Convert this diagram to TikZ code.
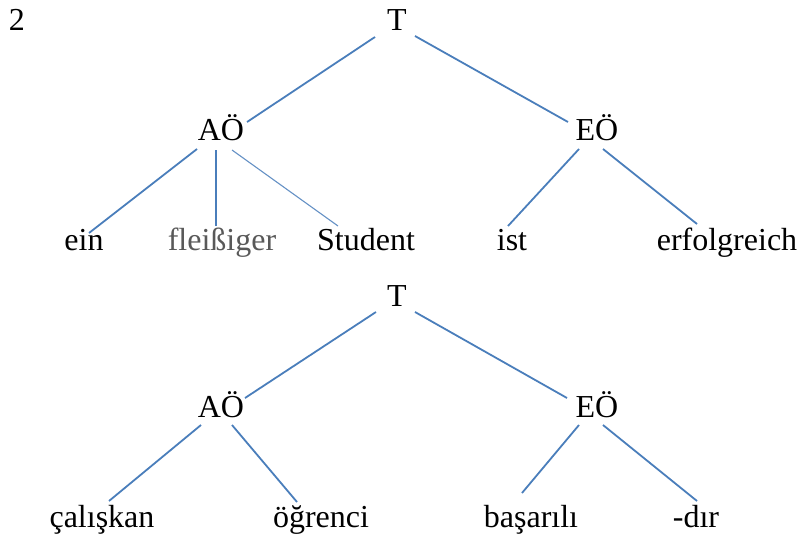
\documentclass[tikz,border=0pt]{standalone}
\usepackage{fontspec}
\setmainfont{Liberation Serif}
\begin{document}
\begin{tikzpicture}[x=1pt,y=-1pt,
  every node/.style={anchor=base,inner sep=0pt,font=\fontsize{32}{38}\selectfont},
  branch/.style={draw=treeblue,line width=1.8pt},
  thinbranch/.style={draw=treeblue!85,line width=1.1pt}]
\definecolor{treeblue}{HTML}{4A7EBB}
\definecolor{glossgrey}{HTML}{595959}
\useasboundingbox (0,0) rectangle (800,538);

\node (num) at (17,30) {2};

% German tree
\node (T1) at (397,30) {T};
\node (A1) at (221,140) {AÖ};
\node (E1) at (597,140) {EÖ};
\node (ein) at (84,250) {ein};
\node[text=glossgrey] (fl) at (222,250) {fleißiger};
\node (st) at (366,250) {Student};
\node (ist) at (512,250) {ist};
\node (erf) at (727,250) {erfolgreich};

\draw[branch] ([shift={(-22,7)}]T1.base) -- ([shift={(26,-18)}]A1.base);
\draw[branch] ([shift={(18,6)}]T1.base) -- ([shift={(-29,-18)}]E1.base);
\draw[branch] ([shift={(-24,9)}]A1.base) -- ([shift={(5,-17)}]ein.base);
\draw[branch] ([shift={(-5,10)}]A1.base) -- ([shift={(-6,-24)}]fl.base);
\draw[thinbranch] ([shift={(11,10)}]A1.base) -- ([shift={(-28,-24)}]st.base);
\draw[branch] ([shift={(-18,9)}]E1.base) -- ([shift={(-4,-24)}]ist.base);
\draw[branch] ([shift={(6,9)}]E1.base) -- ([shift={(-30,-26)}]erf.base);

% Turkish tree
\node (T2) at (397,306) {T};
\node (A2) at (221,417) {AÖ};
\node (E2) at (597,417) {EÖ};
\node (cal) at (102,527) {çalışkan};
\node (ogr) at (321,527) {öğrenci};
\node (bas) at (531,527) {başarılı};
\node (dir) at (696,527) {-dır};

\draw[branch] ([shift={(-21,6)}]T2.base) -- ([shift={(24,-19)}]A2.base);
\draw[branch] ([shift={(18,6)}]T2.base) -- ([shift={(-30,-19)}]E2.base);
\draw[branch] ([shift={(-20,8)}]A2.base) -- ([shift={(7,-26)}]cal.base);
\draw[branch] ([shift={(11,8)}]A2.base) -- ([shift={(-24,-25)}]ogr.base);
\draw[branch] ([shift={(-18,8)}]E2.base) -- ([shift={(-9,-34)}]bas.base);
\draw[branch] ([shift={(6,8)}]E2.base) -- ([shift={(1,-26)}]dir.base);
\end{tikzpicture}
\end{document}
